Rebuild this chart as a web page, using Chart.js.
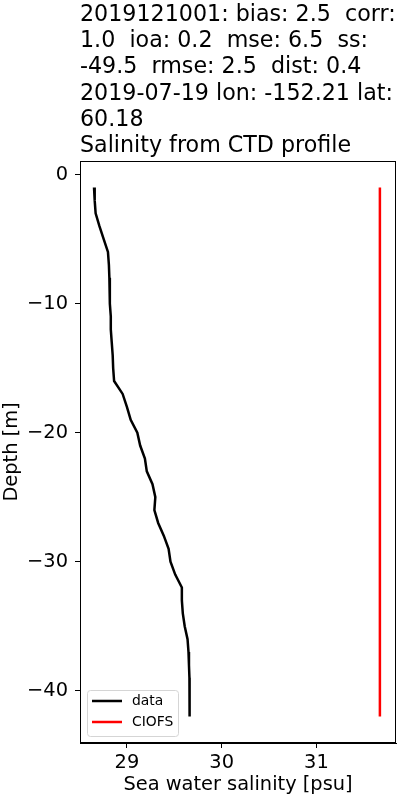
<!DOCTYPE html>
<html>
<head>
<meta charset="utf-8">
<script src="https://cdn.jsdelivr.net/npm/chart.js@4"></script>
<style>
  html, body { margin: 0; padding: 0; background: #fff; }
  #wrap { width: 400px; height: 800px; }
</style>
</head>
<body>
<div id="wrap"><canvas id="chartPerfil"></canvas></div>
<script>
    // Datos del perfil CTD (profundidad en m, salinidad en psu)
    const depth = [-1, -2, -3, -4, -5, -6, -7, -8, -9, -10,
        -11, -12, -13, -14, -15, -16, -17, -18, -19, -20,
        -21, -22, -23, -24, -25, -26, -27, -28, -29, -30,
        -31, -32, -33, -34, -35, -36, -37, -38, -39, -40,
        -41, -42];
    const salinity = [28.653, 28.66, 28.67, 28.71, 28.755, 28.80, 28.81, 28.815, 28.82, 28.82,
        28.83, 28.83, 28.84, 28.85, 28.855, 28.865, 28.955, 29.0, 29.04, 29.11,
        29.14, 29.19, 29.21, 29.27, 29.30, 29.29, 29.33, 29.39, 29.44, 29.46,
        29.51, 29.58, 29.58, 29.59, 29.61, 29.64, 29.65, 29.655, 29.66, 29.66,
        29.66, 29.665];

    // Modelo CIOFS
    const ciofsDepth = [-1, -42];
    const ciofsSalinity = [31.67, 31.67];

    // Ticks de los ejes
    const xTicks = [29, 30, 31];
    const yTicks = [0, -10, -20, -30, -40];

    const titleLines = [
        "2019121001: bias: 2.5  corr:",
        "1.0  ioa: 0.2  mse: 6.5  ss:",
        "-49.5  rmse: 2.5  dist: 0.4",
        "2019-07-19 lon: -152.21 lat:",
        "60.18",
        "Salinity from CTD profile"
    ];

    const fuente = "'DejaVu Sans', sans-serif";

    const puntosData = depth.map((d, i) => ({ x: salinity[i], y: d }));
    const puntosCiofs = ciofsDepth.map((d, i) => ({ x: ciofsSalinity[i], y: d }));

    // Titulo, marco y leyenda estilo matplotlib
    const pluginEstilo = {
        id: "estilo",
        afterDraw(chart) {
            const ctx = chart.ctx;
            const area = chart.chartArea;
            ctx.save();

            // titulo
            ctx.fillStyle = "#000";
            ctx.font = "22.2px " + fuente;
            ctx.textAlign = "left";
            ctx.textBaseline = "alphabetic";
            titleLines.forEach((t, i) => {
                ctx.fillText(t, area.left, 21.2 + i * 26.1);
            });

            // marco
            ctx.strokeStyle = "#000";
            ctx.lineWidth = 1;
            ctx.strokeRect(area.left + 0.5, area.top + 0.5, area.right - area.left - 1, area.bottom - area.top - 1);

            // leyenda
            const lx = area.left + 7, ly = area.bottom - 53, lw = 91, lh = 46;
            ctx.fillStyle = "rgba(255,255,255,0.8)";
            ctx.strokeStyle = "#d5d5d5";
            ctx.beginPath();
            ctx.roundRect(lx + 0.5, ly + 0.5, lw, lh, 3);
            ctx.fill();
            ctx.stroke();

            ctx.font = "13.9px " + fuente;
            ctx.textBaseline = "middle";
            chart.data.datasets.forEach((ds, i) => {
                const yy = ly + 11 + i * 21;
                ctx.strokeStyle = ds.borderColor;
                ctx.lineWidth = 2.5;
                ctx.beginPath();
                ctx.moveTo(lx + 5, yy);
                ctx.lineTo(lx + 35, yy);
                ctx.stroke();
                ctx.fillStyle = "#000";
                ctx.fillText(ds.label, lx + 45, yy);
            });
            ctx.restore();
        }
    };

    const configPerfil = {
        type: "scatter",
        data: {
            datasets: [{
                label: "data",
                data: puntosData,
                showLine: true,
                borderColor: "#000000",
                backgroundColor: "#000000",
                borderWidth: 2.5,
                pointRadius: 0,
                tension: 0,
            },
            {
                label: "CIOFS",
                data: puntosCiofs,
                showLine: true,
                borderColor: "#ff0000",
                backgroundColor: "#ff0000",
                borderWidth: 2.5,
                pointRadius: 0,
                tension: 0,
            }]
        },
        options: {
            responsive: false,
            animation: false,
            layout: { padding: { top: 161, right: 4, left: 0, bottom: 0 } },
            plugins: {
                legend: { display: false },
                tooltip: { enabled: false },
                title: { display: false }
            },
            scales: {
                x: {
                    type: "linear",
                    min: 28.505,
                    max: 31.84,
                    afterBuildTicks(scale) {
                        scale.ticks = xTicks.map(v => ({ value: v }));
                    },
                    afterFit(scale) { scale.height = 57; },
                    grid: { drawOnChartArea: false, drawTicks: true, tickLength: 5, color: "#000", tickColor: "#000" },
                    border: { display: true, color: "#000", width: 1 },
                    ticks: {
                        color: "#000",
                        padding: 3,
                        font: { family: fuente, size: 19.4 },
                        callback: v => String(v)
                    },
                    title: {
                        display: true,
                        text: "Sea water salinity [psu]",
                        color: "#000",
                        font: { family: fuente, size: 19.4, lineHeight: 1.2 },
                        padding: { top: 0, bottom: 3 }
                    }
                },
                y: {
                    type: "linear",
                    min: -44.05,
                    max: 1.05,
                    afterBuildTicks(scale) {
                        scale.ticks = yTicks.map(v => ({ value: v }));
                    },
                    afterFit(scale) { scale.width = 80; },
                    grid: { drawOnChartArea: false, drawTicks: true, tickLength: 5, color: "#000", tickColor: "#000" },
                    border: { display: true, color: "#000", width: 1 },
                    ticks: {
                        color: "#000",
                        padding: 7,
                        font: { family: fuente, size: 19.4 },
                        callback: v => String(v).replace("-", "\u2212")
                    },
                    title: {
                        display: true,
                        text: "Depth [m]",
                        color: "#000",
                        font: { family: fuente, size: 19.4, lineHeight: 1.2 },
                        padding: { top: 0, bottom: 0 }
                    }
                }
            }
        },
        plugins: [pluginEstilo]
    };

    const canvas = document.getElementById("chartPerfil");
    canvas.width = 400;
    canvas.height = 800;
    var chartPerfil = new Chart(canvas, configPerfil);
</script>
</body>
</html>
